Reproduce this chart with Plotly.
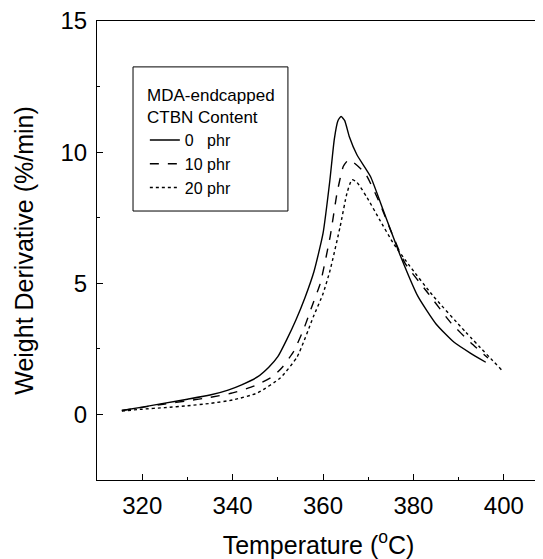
import plotly.graph_objects as go

# temperature (C) and weight derivative (%/min)
t_0phr = [315.5, 320, 325, 330, 335, 339, 342, 345.5, 348, 350, 352, 354, 356, 358, 360,
          361.5, 362.5, 363.3, 364, 364.8, 365.8, 367.5, 370.5, 373.5, 377, 381, 385, 389,
          392.5, 396]
d_0phr = [0.15, 0.28, 0.43, 0.58, 0.74, 0.93, 1.13, 1.43, 1.8, 2.2, 2.86, 3.6, 4.45, 5.45, 6.9,
          8.9, 10.5, 11.2, 11.36, 11.2, 10.6, 9.9, 9.07, 7.7, 6.1, 4.5, 3.45, 2.75, 2.35, 1.99]

t_10phr = [315.5, 320, 325, 330, 335, 340, 345, 349, 351, 353.5, 355.7, 357.5, 359.4, 361.6,
           363.1, 364.5, 365.6, 366.8, 369.3, 372.2, 375.2, 378.1, 383.2, 388.3, 392.7, 396.5]
d_10phr = [0.15, 0.27, 0.40, 0.52, 0.65, 0.82, 1.1, 1.46, 1.8, 2.4, 3.24, 4.1, 5.0, 6.8,
           8.44, 9.46, 9.7, 9.6, 9.2, 8.19, 6.92, 5.78, 4.63, 3.49, 2.73, 2.15]

t_20phr = [315.5, 320, 325, 330, 335, 340, 345.5, 350.6, 354.3, 357.9, 360, 361.6, 363.8, 365.3,
           366.4, 367.5, 369.6, 372.5, 375.5, 379, 384.2, 391.5, 399.6]
d_20phr = [0.13, 0.2, 0.26, 0.33, 0.42, 0.55, 0.82, 1.4, 2.2, 3.74, 4.6, 5.52, 7.17, 8.44,
           8.95, 8.85, 8.31, 7.43, 6.54, 5.7, 4.55, 3.15, 1.68]

names = ["0\u00a0\u00a0\u00a0phr", "10 phr", "20 phr"]
dashes = ["solid", "dash", "dot"]

fig = go.Figure()
for i, (t, d) in enumerate([(t_0phr, d_0phr), (t_10phr, d_10phr), (t_20phr, d_20phr)]):
    fig.add_trace(go.Scatter(x=t, y=d, mode="lines", name=names[i],
                             line=dict(color="black", width=1.4, dash=dashes[i],
                                       shape="spline", smoothing=0.5)))

axis_style = dict(showline=True, linecolor="black", linewidth=1, mirror=True,
                  ticks="inside", ticklen=6, tickcolor="black", showgrid=False,
                  zeroline=False, automargin=False, ticklabelstandoff=4,
                  ticklabeloverflow="allow", tickfont=dict(size=24, color="black"))

fig.update_xaxes(range=[310, 408], tick0=320, dtick=20,
                 minor=dict(dtick=10, tick0=310, ticks="inside", ticklen=3, tickcolor="black"),
                 title=dict(text="Temperature (<sup>o</sup>C)", font=dict(size=25), standoff=22),
                 **axis_style)
fig.update_yaxes(range=[-2.5, 15], tick0=0, dtick=5,
                 minor=dict(dtick=2.5, ticks="inside", ticklen=3, tickcolor="black"),
                 title=dict(text="Weight Derivative (%/min)", font=dict(size=25), standoff=19),
                 **axis_style)

# box around the legend
fig.add_shape(type="rect", xref="paper", yref="paper", x0=0.0813, x1=0.431, y0=0.586, y1=0.9,
              line=dict(color="black", width=1), fillcolor="white", layer="below")

fig.update_layout(
    width=535, height=551,
    margin=dict(l=89, r=3, t=13, b=79),
    plot_bgcolor="white", paper_bgcolor="white",
    font=dict(family="Liberation Sans, Arial, sans-serif", color="black"),
    legend=dict(x=0.108, y=0.874, xanchor="left", yanchor="top",
                borderwidth=0, bgcolor="rgba(0,0,0,0)",
                font=dict(size=16),
                title=dict(text="MDA-endcapped<br>CTBN Content", side="top center",
                           font=dict(size=17))),
)

fig.write_html("out.html")
